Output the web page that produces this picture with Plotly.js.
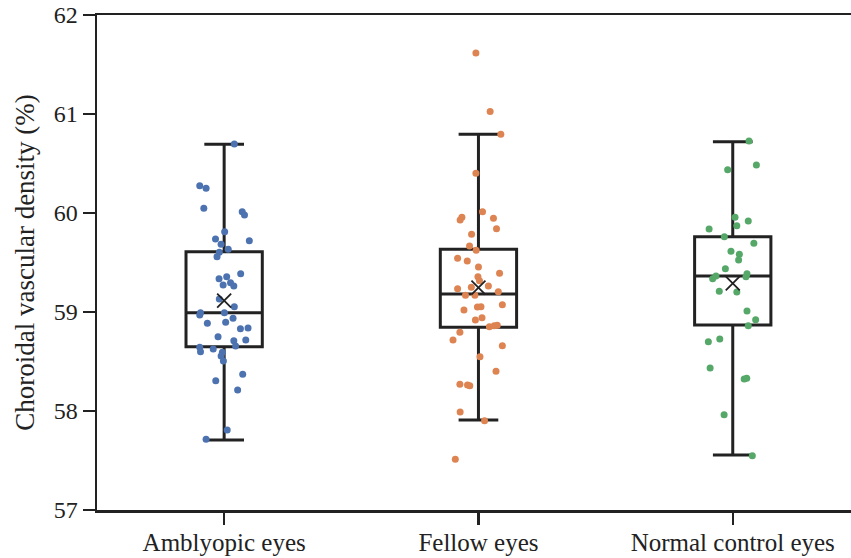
<!DOCTYPE html>
<html>
<head>
<meta charset="utf-8">
<script src="https://cdn.plot.ly/plotly-3.0.1.min.js"></script>
<style>html,body{margin:0;padding:0;background:#fff;}#chart{width:851px;height:558px;}</style>
</head>
<body>
<div id="chart"></div>
<script>
// ---- data ----
const categories = ["Amblyopic eyes", "Fellow eyes", "Normal control eyes"];
const colors = ["#4C72B0", "#DD8452", "#55A868"];

// box statistics
const q1 = [58.650, 58.845, 58.869];
const median = [58.993, 59.182, 59.364];
const q3 = [59.609, 59.633, 59.761];
const lowerWhisker = [57.707, 57.909, 57.556];
const upperWhisker = [60.694, 60.795, 60.720];
const means = [59.114, 59.246, 59.290];

// individual eyes
const amblyopicValues = [60.697, 60.276, 60.249, 60.047, 60.013, 59.980, 59.811, 59.737, 59.720, 59.684,
  59.633, 59.603, 59.559, 59.387, 59.337, 59.357, 59.296, 59.263, 59.273, 59.131,
  59.054, 58.993, 58.970, 58.993, 58.936, 58.886, 58.896, 58.832, 58.838, 58.751,
  58.710, 58.717, 58.657, 58.643, 58.599, 58.626, 58.593, 58.556, 58.505, 58.371,
  58.306, 58.212, 57.808, 57.714];
const amblyopicJitter = [0.040, -0.096, -0.071, -0.080, 0.071, 0.080, 0.002, -0.034, 0.099, -0.012,
  0.016, -0.019, -0.028, 0.065, -0.020, 0.010, 0.025, 0.038, -0.004, -0.019,
  0.040, -0.093, -0.096, 0.001, 0.035, -0.066, 0.006, 0.064, 0.094, -0.024,
  0.038, 0.085, 0.045, -0.096, -0.093, -0.043, -0.007, -0.012, -0.003, 0.073,
  -0.033, 0.053, 0.012, -0.071];

const fellowValues = [61.616, 61.024, 60.795, 60.401, 60.013, 59.956, 59.929, 59.946, 59.842, 59.785,
  59.667, 59.623, 59.542, 59.515, 59.455, 59.391, 59.357, 59.316, 59.263, 59.249,
  59.236, 59.205, 59.168, 59.168, 59.074, 59.051, 59.054, 59.020, 58.942, 58.919,
  58.852, 58.862, 58.866, 58.795, 58.717, 58.660, 58.549, 58.401, 58.270, 58.263,
  58.256, 57.990, 57.902, 57.512];
const fellowJitter = [-0.010, 0.046, 0.088, -0.010, 0.016, -0.065, -0.072, 0.059, 0.071, -0.027,
  -0.035, -0.009, -0.082, -0.044, 0.000, 0.083, -0.002, 0.004, 0.039, -0.028,
  -0.082, 0.078, -0.014, -0.051, 0.094, -0.004, 0.010, -0.057, 0.014, -0.012,
  0.043, 0.062, 0.074, -0.073, -0.100, 0.094, 0.006, 0.069, -0.073, -0.043,
  -0.034, -0.072, 0.024, -0.091];

const normalValues = [60.727, 60.485, 60.438, 59.956, 59.919, 59.872, 59.838, 59.761, 59.694, 59.613,
  59.583, 59.525, 59.438, 59.387, 59.357, 59.364, 59.337, 59.209, 59.202, 59.010,
  58.922, 58.862, 58.727, 58.700, 58.434, 58.323, 58.330, 57.963, 57.549];
const normalJitter = [0.064, 0.093, -0.020, 0.009, 0.061, 0.016, -0.093, -0.033, 0.083, -0.007,
  0.026, 0.023, -0.029, 0.056, 0.052, -0.066, -0.079, -0.053, 0.016, 0.056,
  0.090, 0.061, -0.051, -0.096, -0.089, 0.045, 0.055, -0.034, 0.077];

const yTicks = [57, 58, 59, 60, 61, 62];

// ---- traces ----
const groups = [
  [amblyopicValues, amblyopicJitter],
  [fellowValues, fellowJitter],
  [normalValues, normalJitter]
];

const ink = "#222222";
const traces = [];

categories.forEach((c, i) => {
  traces.push({
    type: "box",
    x: [i],
    q1: [q1[i]], median: [median[i]], q3: [q3[i]],
    lowerfence: [lowerWhisker[i]], upperfence: [upperWhisker[i]],
    width: 0.3,
    whiskerwidth: 0.52,
    fillcolor: "rgba(0,0,0,0)",
    line: { color: ink, width: 3 },
    boxpoints: false,
    hoverinfo: "skip",
    showlegend: false
  });
});

groups.forEach(([vals, jit], i) => {
  traces.push({
    type: "scatter",
    mode: "markers",
    x: jit.map(d => i + d),
    y: vals,
    marker: { color: colors[i], size: 7, line: { width: 0 } },
    hoverinfo: "y",
    showlegend: false
  });
});

traces.push({
  type: "scatter",
  mode: "markers",
  x: categories.map((c, i) => i),
  y: means,
  marker: { symbol: "x-thin", size: 14, line: { color: ink, width: 1.8 }, color: ink },
  showlegend: false,
  hoverinfo: "y"
});

const font = "Liberation Serif";

const layout = {
  width: 851,
  height: 558,
  margin: { l: 97, r: 0, t: 15, b: 48 },
  paper_bgcolor: "#ffffff",
  plot_bgcolor: "#ffffff",
  font: { family: font, color: ink, size: 24 },
  showlegend: false,
  xaxis: {
    range: [-0.5, 2.465],
    tickvals: categories.map((c, i) => i),
    ticktext: categories,
    ticks: "outside",
    ticklen: 12,
    tickwidth: 2.5,
    tickcolor: ink,
    ticklabelstandoff: -4,
    showline: true,
    linewidth: 2.5,
    linecolor: ink,
    mirror: true,
    showgrid: false,
    zeroline: false,
    tickfont: { family: font, size: 25, color: ink }
  },
  yaxis: {
    range: [57, 62],
    tickvals: yTicks,
    ticktext: yTicks.map(String),
    ticks: "outside",
    ticklen: 12,
    tickwidth: 2.5,
    tickcolor: ink,
    showline: true,
    linewidth: 2.5,
    linecolor: ink,
    showgrid: false,
    zeroline: false,
    tickfont: { family: font, size: 24, color: ink },
    title: { text: "Choroidal vascular density (%)", font: { family: font, size: 27, color: ink }, standoff: 12 }
  }
};

Plotly.newPlot("chart", traces, layout, { displayModeBar: false, staticPlot: true });
</script>
</body>
</html>
